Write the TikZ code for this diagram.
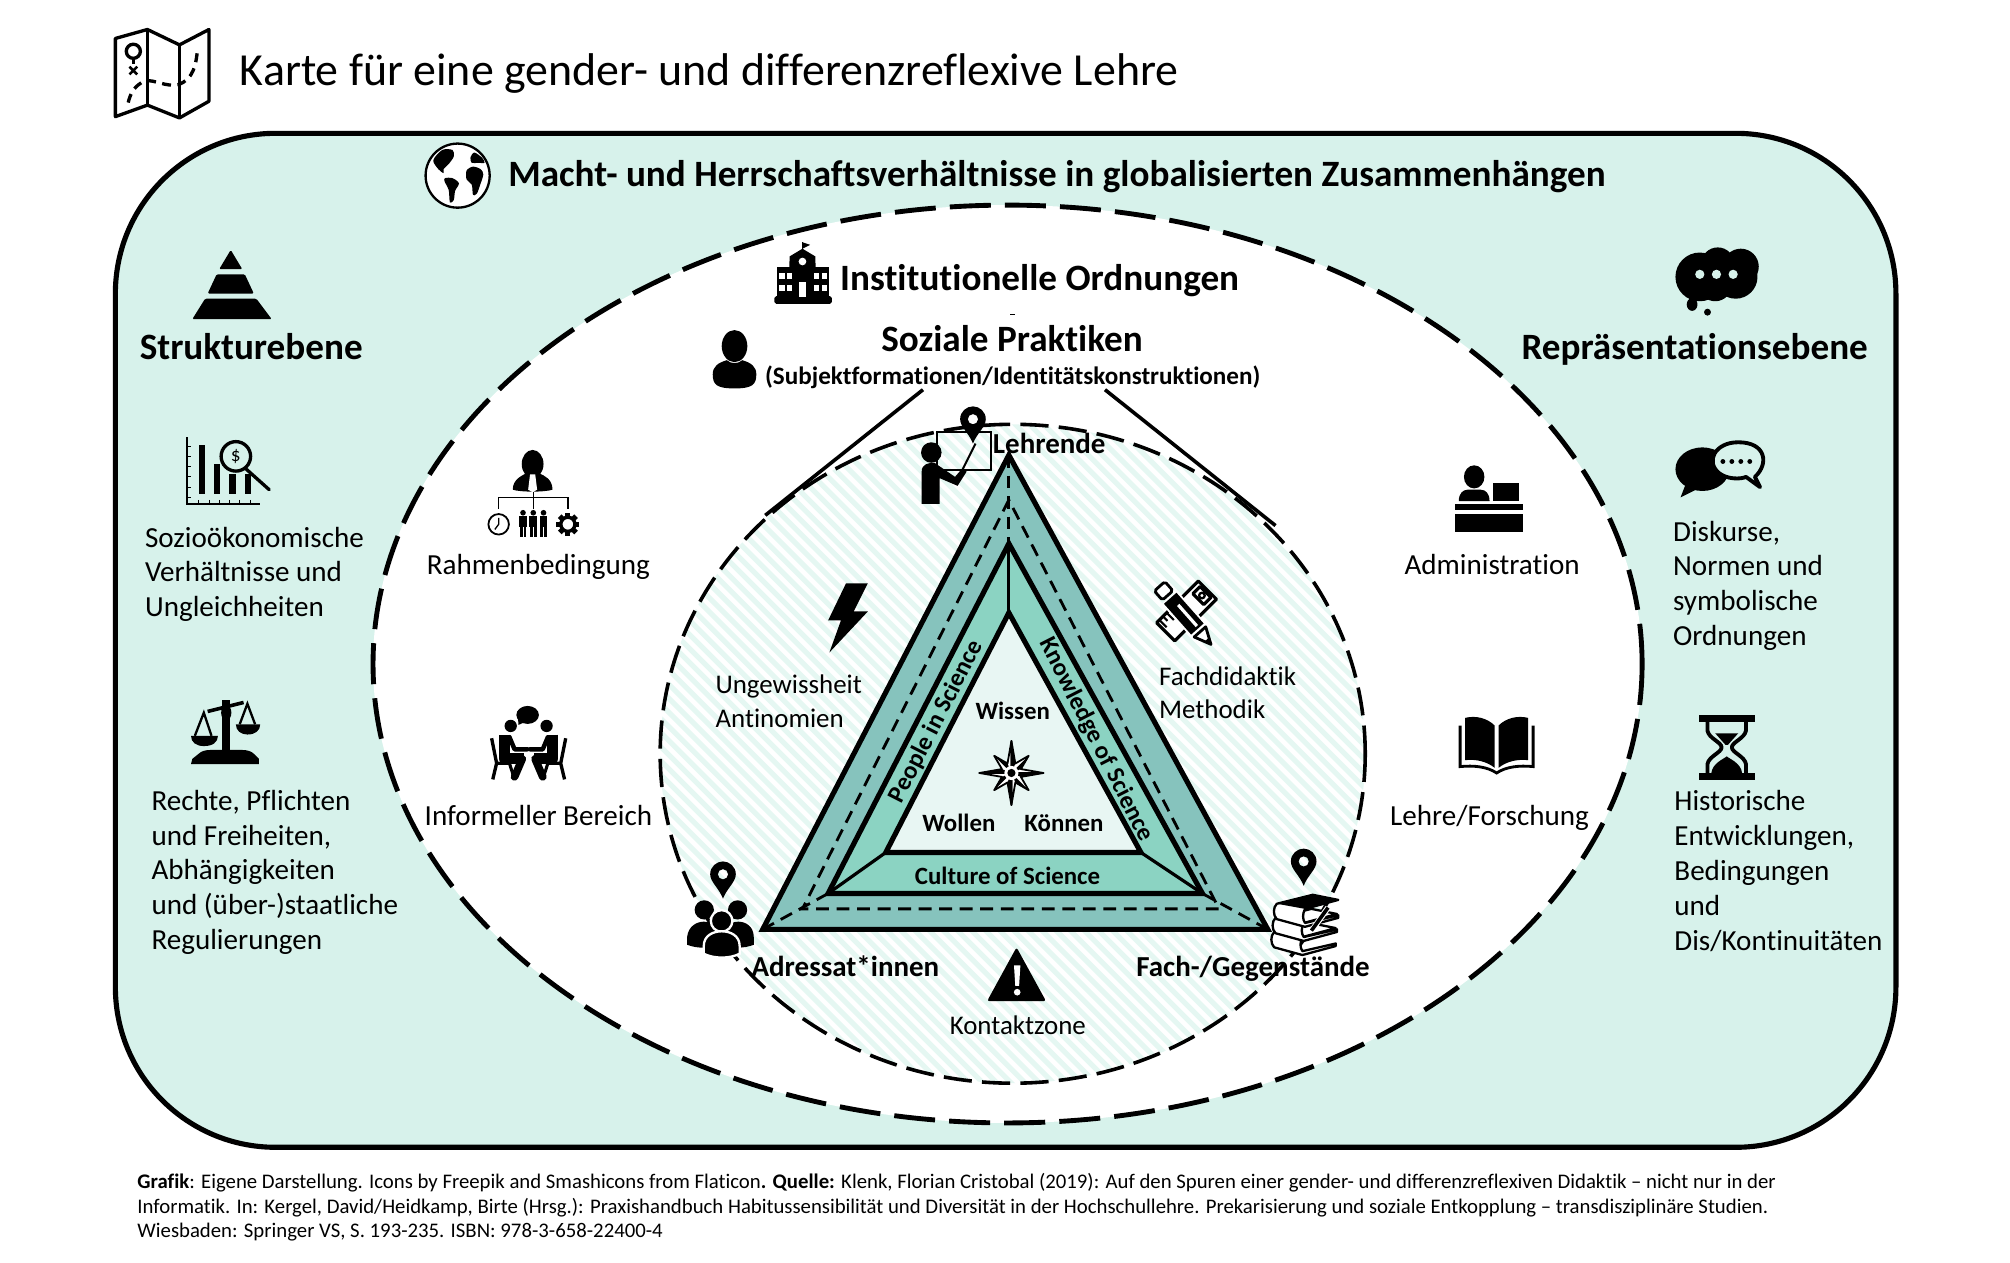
\documentclass[tikz,border=0pt]{standalone}
\usepackage{fontspec}
\setmainfont{Carlito}[Ligatures=NoCommon]
\definecolor{mint}{HTML}{D7F2EB}
\definecolor{hatchc}{HTML}{E5F7F2}
\definecolor{bandA}{HTML}{86C3BD}
\definecolor{bandB}{HTML}{8BD3C2}
\definecolor{coreC}{HTML}{E8F6F3}
\tikzset{
 txttitle/.style={font=\fontsize{35.8}{42}\selectfont,inner sep=0,anchor=base west},
 txthead/.style={font=\bfseries\fontsize{29}{34}\selectfont,inner sep=0,anchor=base},
 txtsub/.style={font=\bfseries\fontsize{19.6}{23}\selectfont,inner sep=0,anchor=base},
 txtbody/.style={font=\fontsize{22.7}{27.2}\selectfont,inner sep=0,align=left,anchor=west},
 txtlab/.style={font=\fontsize{22.7}{27}\selectfont,inner sep=0,anchor=base},
 txtbold/.style={font=\bfseries\fontsize{22.6}{27}\selectfont,inner sep=0,anchor=base},
 txtin/.style={font=\bfseries\fontsize{19.4}{23}\selectfont,inner sep=0,anchor=base},
 txtfoot/.style={font=\fontsize{16.2}{19.2}\selectfont,inner sep=0,align=left,anchor=west},
 dashout/.style={line width=3.8pt,dash pattern=on 32pt off 11pt},
 dashin/.style={line width=2.8pt,dash pattern=on 22pt off 8pt},
 dashtri/.style={line width=2.2pt,dash pattern=on 10pt off 6pt},
 tri/.style={line width=4pt,line join=miter},
 locpin/.pic={
  \fill[black,even odd rule] (0,0) .. controls (-3,-8) and (-10,-13) .. (-10,-19)
    .. controls (-10,-25) and (-5,-29) .. (0,-29) .. controls (5,-29) and (10,-25) .. (10,-19)
    .. controls (10,-13) and (3,-8) .. (0,0) -- cycle (0,-19) circle[radius=4];
 },
 minifig/.pic={
  \fill (0,-9) circle[radius=2.2];
  \fill (-3,-6.5) rectangle (3,2);
  \fill (-2.6,2) rectangle (-.4,10);
  \fill (.4,2) rectangle (2.6,10);
 },
 sitter/.pic={
  \draw[line width=2.6pt] (-28.9,29.9) -- (-25,49.4) -- (-28,62);
  \draw[line width=2.4pt] (-25,49.4) -- (-15,49.4) -- (-11,62);
  \fill (-14,20.3) circle[radius=4.8];
  \draw[line width=8.5pt,line join=round] (-18.5,27) -- (-18.5,46) -- (-4,46);
  \draw[line width=6pt,line cap=round,line join=round] (-5,46) -- (-11,60);
  \draw[white,line width=5.5pt] (-12,31) -- (-10,38);
  \draw[line width=3.5pt,line cap=round,line join=round] (-15,29) -- (-11,38.5) -- (-1,38.5);
 },
 onebook/.pic={
  \draw[fill=white,line width=1.8pt,line join=round] (0,0) .. controls (-3,3) and (-3,9) .. (0,12)
    -- (22,18) -- (48,11) -- (48,9) -- (22,15) .. controls (20,12) and (20,8) .. (22,4) -- (48,-3) -- (28,-7) -- cycle;
 }
}
\begin{document}
\begin{tikzpicture}[x=1pt,y=-1pt,line cap=butt]
\useasboundingbox (0,0) rectangle (1568,985.2);
\fill[white] (0,0) rectangle (1568,985.2);

% main frames
\draw[line width=4pt,fill=mint,rounded corners=125pt] (90,104) rectangle (1479,895);
\fill[white] (786,518) ellipse[x radius=495,y radius=358];
\draw[dashout] (786,518) ellipse[x radius=495,y radius=358];

% contact zone
\begin{scope}
 \clip (790,588) ellipse[x radius=275,y radius=257];
 \foreach \k in {-66,-55,...,1100}{
   \draw[hatchc,line width=4pt] (\k,320) -- ++(540,540);
 }
\end{scope}
\draw[dashin] (790,588) ellipse[x radius=275,y radius=257];
\coordinate (wedgeLa) at (720,304); \coordinate (wedgeLb) at (597,402);
\coordinate (wedgeRa) at (862,304); \coordinate (wedgeRb) at (995,410);
\draw[line width=2.8pt] (wedgeLa) -- (wedgeLb);
\draw[line width=2.8pt] (wedgeRa) -- (wedgeRb);

% triangles
\coordinate (oA) at (787,355); \coordinate (oL) at (595,725); \coordinate (oR) at (989,725);
\coordinate (dA) at (787,390); \coordinate (dL) at (626,709); \coordinate (dR) at (951,709);
\coordinate (mA) at (787,424); \coordinate (mL) at (646,697); \coordinate (mR) at (938,697);
\coordinate (iA) at (787,478); \coordinate (iL) at (691,665); \coordinate (iR) at (890,665);
\draw[tri,fill=bandA] (oA) -- (oL) -- (oR) -- cycle;
\draw[dashtri] (dA) -- (dL) -- (dR) -- cycle;
\draw[dashtri] (oA) -- (mA);
\draw[dashtri] (oL) -- (mL);
\draw[dashtri] (oR) -- (mR);
\draw[tri,fill=bandB] (mA) -- (mL) -- (mR) -- cycle;
\draw[tri,fill=coreC] (iA) -- (iL) -- (iR) -- cycle;
\draw[line width=2.5pt] (mA) -- (iA);
\draw[line width=2.5pt] (mL) -- (iL);
\draw[line width=2.5pt] (mR) -- (iR);

% map icon
\begin{scope}[line width=2.6pt,line join=round]
 \draw (90,30) -- (115,23) -- (140,35) -- (163,23) -- (163,79) -- (140,92) -- (115,82) -- (90,91) -- cycle;
 \draw (115,23) -- (115,82) (140,35) -- (140,92);
 \draw (104,40) circle[radius=5.5];
 \draw (104,46) -- (104,50);
 \draw[line width=2pt] (101,52) -- (107,58) (107,52) -- (101,58);
 \draw[dash pattern=on 7pt off 5pt] (100,80) .. controls (102,72) and (105,67) .. (113,63) .. controls (121,62) and (129,68) .. (139,66) .. controls (151,62) and (153,50) .. (154,39);
\end{scope}

% globe
\begin{scope}[shift={(357,137)}]
 \draw[line width=1.8pt,fill=white] (0,0) circle[radius=25];
 \fill plot[smooth cycle] coordinates {(-19,-12) (-12,-20) (-4,-20) (-3,-15) (-7,-9) (-11,-5) (-11,-2) (-15,-5)};
 \fill plot[smooth cycle] coordinates {(-10,2) (-4,2) (1,6) (-2,12) (-3,19) (-6,21) (-7,11) (-10,5)};
 \fill plot[smooth cycle] coordinates {(7,-4) (12,-7) (18,-5) (20,-1) (18,6) (15,14) (12,15) (11,7) (7,3)};
 \fill plot[smooth cycle] coordinates {(10,-14) (13,-18) (19,-14) (21,-10) (16,-10) (11,-10)};
\end{scope}

% pyramid
\fill[rounded corners=1pt] (180,195) -- (189,210) -- (171,210) -- cycle;
\fill[rounded corners=1pt] (169,214) -- (191,214) -- (198,229) -- (162,229) -- cycle;
\fill[rounded corners=1pt] (160,233) -- (200,233) -- (212,249) -- (150,249) -- cycle;

% school
\begin{scope}
 \fill[rounded corners=1.5pt] (604,231) rectangle (649,237);
 \fill (606,208) rectangle (647,232);
 \fill (616,200) -- (626,194) -- (636,200) -- (637,232) -- (615,232) -- cycle;
 \draw[line width=1.2pt] (626,194) -- (626,189);
 \fill (626,189) -- (632,191) -- (626,194) -- cycle;
 \fill[white] (626,204) circle[radius=3];
 \fill[white] (623,220) rectangle (629,232);
 \foreach \wx in {608,614,635,641}{
   \fill[white] (\wx,213) rectangle ++(4,5);
   \fill[white] (\wx,222) rectangle ++(4,5);
 }
\end{scope}

% social practice person
\fill (573,270) ellipse[x radius=10,y radius=12.5];
\fill (556,292) .. controls (556,286) and (560,283) .. (567,281) .. controls (570,284) and (576,284) .. (579,281)
  .. controls (586,283) and (590,286) .. (590,292) .. controls (590,300) and (587,303) .. (573,303) .. controls (559,303) and (556,300) .. (556,292) -- cycle;

% teacher
\draw[line width=1.5pt] (731,337) rectangle (773,367);
\fill (726.5,353) ellipse[x radius=8,y radius=8];
\fill (719,393) -- (719,368) .. controls (719,362) and (724,361) .. (729,361) -- (745,372) -- (751,365) -- (754,368) -- (747,379) -- (733,373) -- (733,393) -- cycle;
\draw[line width=1.5pt] (751,366) -- (761,346);
\pic at (759,346) {locpin};

% chart with magnifier
\begin{scope}
 \draw[line width=1.5pt] (146,341) -- (146,393) -- (203,393);
 \fill (155,347) rectangle (160,385);
 \fill (167,362) rectangle (172,385);
 \fill (179,370) rectangle (184,385);
 \fill (191,370) rectangle (196,385);
 \draw[line width=2.6pt,line cap=round] (191,365) -- (210,382);
 \draw[line width=2.6pt,fill=mint] (184,356) circle[radius=11.5];
 \node[inner sep=0,font=\fontsize{15}{15}\selectfont] (dollar) at (184,356) {\$};
 \foreach \ty in {348,356,364,372,380,388}{\draw[line width=.6pt] (146,\ty) -- (149,\ty);}
 \foreach \tx in {155,163,171,179,187,195}{\draw[line width=.6pt] (\tx,390) -- (\tx,393);}
\end{scope}

% scales
\begin{scope}
 \fill (173.5,546) rectangle (179.5,592);
 \fill (176.5,556) ellipse[x radius=4,y radius=6];
 \fill (150,592) -- (155,588) .. controls (157,586) and (160,585) .. (165,585) -- (188,585) .. controls (193,585) and (196,586) .. (198,588) -- (202,592) -- (202,596) -- (149,596) -- cycle;
 \draw[line width=2.8pt] (162,555) -- (190,548);
 \draw[line width=1.8pt] (152,574) -- (159,556) -- (165,574);
 \draw[line width=1.8pt] (187,565) -- (193,549) -- (199,565);
 \fill (149,574) -- (170,574) .. controls (170,579) and (166,582) .. (159,582) .. controls (153,582) and (149,579) .. (149,574) -- cycle;
 \fill (184,565) -- (203,565) .. controls (203,570) and (199,573) .. (193,573) .. controls (188,573) and (184,570) .. (184,565) -- cycle;
\end{scope}

% org chart
\begin{scope}
 \fill (415.5,362) ellipse[x radius=8.5,y radius=11];
 \fill (400,382) .. controls (400,374) and (407,371) .. (411,369) -- (420,369) .. controls (425,371) and (431,374) .. (431,382) .. controls (425,384) and (406,384) .. (400,382) -- cycle;
 \fill[white] (413.5,370) -- (417.5,370) -- (419,382) -- (415.5,384) -- (412,382) -- cycle;
 \draw[line width=1pt] (389,397) -- (389,388) -- (443,388) -- (443,397) (416,384) -- (416,397);
 \draw[line width=1.4pt] (389,409) circle[radius=8];
 \draw[line width=1pt] (389,404) -- (389,409) -- (386,413);
 \pic at (408,409) {minifig};
 \pic at (416,409) {minifig};
 \pic at (424,409) {minifig};
 \foreach \a in {0,45,...,315}{\fill[shift={(443,409)},rotate=\a] (-2,-9) rectangle (2,-5);}
 \draw[line width=2.6pt] (443,409) circle[radius=5.5];
\end{scope}

% informal talk
\fill (411.6,557.7) ellipse[x radius=8.8,y radius=7];
\fill (404,559) -- (410,563) -- (404.5,565.5) -- cycle;
\pic at (412.4,546) {sitter};
\pic[xscale=-1] at (412.4,546) {sitter};

% lightning
\fill (660,455) -- (677,455) -- (666,477) -- (677,477) -- (647,509) -- (656,484) -- (646,484) -- cycle;

% pencil and ruler
\begin{scope}[shift={(925.6,476.6)},rotate=45,line width=2.4pt,line join=round]
 \draw[fill=white] (-23,-10) rectangle (23,10);
 \draw[fill=white] (13,-6) rectangle (21,6);
 \draw[line width=1.8pt] (17,0) circle[radius=2.2];
 \draw[line width=1.6pt] (-20,-10) -- (-20,-2) (-16,-10) -- (-16,-5) (-12,-10) -- (-12,-2);
\end{scope}
\begin{scope}[shift={(924.8,480.2)},rotate=-48.5,line width=2.2pt,line join=round]
 \draw[fill=white,rounded corners=1.5pt] (-30.5,-5.5) rectangle (-21,5.5);
 \fill[white] (-19,-8) rectangle (16,8);
 \fill (-18,-6.5) rectangle (14,6.5);
 \fill[white] (-10,-2.5) rectangle (12,0);
 \draw[fill=white] (17,-6) -- (30,0) -- (17,6) -- cycle;
 \fill (25,-2.3) -- (31,0) -- (25,2.3) -- cycle;
\end{scope}

% addressees
\pic at (564,701) {locpin};
\fill (549.4,709.8) circle[radius=7.5];
\fill (575.4,709.8) circle[radius=7.5];
\fill (536,737) -- (536,731) .. controls (537,722) and (544,719) .. (549,719) .. controls (554,719) and (562,722) .. (562,731) -- (562,737) .. controls (552,740) and (544,740) .. (536,737) -- cycle;
\fill (562,737) -- (562,731) .. controls (563,722) and (571,719) .. (576,719) .. controls (581,719) and (588,722) .. (588,731) -- (588,737) .. controls (580,740) and (572,740) .. (562,737) -- cycle;
\draw[white,line width=1.8pt,fill=black] (562.9,718.4) circle[radius=8.4];
\draw[white,line width=1.8pt,fill=black] (549,744) -- (549,738) .. controls (549,730) and (556,726.5) .. (563,726.5) .. controls (570,726.5) and (577,730) .. (577,738) -- (577,744) .. controls (569,748) and (557,748) .. (549,744) -- cycle;

% books
\pic at (1017,691) {locpin};
\pic at (994,727) {onebook};
\pic at (995,716) {onebook};
\pic at (996,705) {onebook};
\fill (996,705) -- (1024,698) -- (1044,702) -- (1018,709) -- cycle;
\draw[white,line width=4.5pt] (1036,708) -- (1024,725);
\draw[line width=2.8pt] (1036,708) -- (1023,726);

% warning
\fill[rounded corners=2pt] (793,739) -- (816,781) -- (770,781) -- cycle;
\fill[white] (791,753) -- (796,753) -- (795,769) -- (792,769) -- cycle;
\fill[white] (793.5,774) circle[radius=2.6];

% compass
\begin{scope}[shift={(789,603)}]
 \foreach \a in {0,90,180,270}{
   \draw[line width=1.4pt,fill=white,line join=round] (\a:25) -- (\a+22.5:8) -- (\a+45:19) -- (\a+67.5:8) -- (\a+90:25) -- (0,0) -- cycle;
 }
 \foreach \a in {0,45,...,315}{
   \pgfmathsetmacro{\rr}{mod(\a,90)==0 ? 25 : 19}
   \fill (0,0) -- (\a:\rr) -- (\a+22.5:8) -- cycle;
 }
 \fill[white] (0,0) circle[radius=5.5];
 \fill (0,0) circle[radius=3.2];
\end{scope}

% administration
\fill (1150,372) ellipse[x radius=8,y radius=9];
\fill (1138,391) .. controls (1138,385) and (1141,382) .. (1145,382) -- (1155,382) .. controls (1159,382) and (1162,385) .. (1162,391) -- cycle;
\fill (1165,377) rectangle (1185,391);
\fill (1135,393.5) rectangle (1188,398);
\fill (1135,401) rectangle (1188,415);

% open book
\begin{scope}
 \fill (1143,560) .. controls (1151,558) and (1160,560) .. (1166,566) -- (1166,599) .. controls (1160,594) and (1151,592) .. (1143,593) -- cycle;
 \fill (1192,560) .. controls (1184,558) and (1175,560) .. (1169,566) -- (1169,599) .. controls (1175,594) and (1184,592) .. (1192,593) -- cycle;
 \draw[line width=2.2pt] (1139,566) -- (1139,598) .. controls (1150,597) and (1160,598) .. (1167.5,603) .. controls (1175,598) and (1185,597) .. (1196,598) -- (1196,566);
\end{scope}

% cloud
\fill (1326,216) circle[radius=19];
\fill (1340,206) circle[radius=13];
\fill (1358,208) circle[radius=14];
\fill (1354,216) circle[radius=17];
\fill (1338,222) circle[radius=13];
\foreach \dx in {1326,1339,1352}{\fill[mint] (\dx,214) circle[radius=3.6];}
\fill (1320,237.5) ellipse[x radius=4.2,y radius=5];
\fill (1332,243.5) circle[radius=2.7];

% speech bubbles
\fill (1328,366) ellipse[x radius=21,y radius=17];
\fill (1316,375) -- (1325,381) -- (1311,388) -- cycle;
\draw[line width=3pt,fill=mint,line join=round] (1369,372) .. controls (1380,362) and (1378,345) .. (1356,345) .. controls (1338,345) and (1330,360) .. (1341,369) .. controls (1347,374) and (1358,374) .. (1362,372) -- (1373,380) -- cycle;
\foreach \dx in {1344,1351,1358,1365}{\fill (\dx,360) circle[radius=1.9];}

% hourglass
\begin{scope}
 \fill (1325,558) rectangle (1369,563.5);
 \fill (1325,603) rectangle (1369,608.5);
 \draw[line width=3pt,line join=round] (1332,563) -- (1332,570) .. controls (1333,576) and (1343,579) .. (1343,583) .. controls (1343,587) and (1333,590) .. (1332,596) -- (1332,604);
 \draw[line width=3pt,line join=round] (1362,563) -- (1362,570) .. controls (1361,576) and (1351,579) .. (1351,583) .. controls (1351,587) and (1361,590) .. (1362,596) -- (1362,604);
 \fill (1338,572) -- (1356,572) -- (1348,581) -- (1346,581) -- cycle;
 \fill (1335,603) .. controls (1336,595) and (1345,592) .. (1347,590) .. controls (1349,592) and (1358,595) .. (1359,603) -- cycle;
\end{scope}

% tiny mark
\draw[line width=.8pt] (788,245) -- (792,245);

% texts
\node[txttitle] (ttl) at (187,67) {Karte für eine gender- und differenzreflexive Lehre};
\node[txthead] (macht) at (824.5,145.5) {Macht- und Herrschaftsverhältnisse in globalisierten Zusammenhängen};
\node[txthead] (inst) at (811,227) {Institutionelle Ordnungen};
\node[txthead] (soz) at (789.5,274.5) {Soziale Praktiken};
\node[txtsub] (subj) at (790,300) {(Subjektformationen/Identitätskonstruktionen)};
\node[txthead] (struk) at (196,280.5) {Strukturebene};
\node[txthead] (repr) at (1322,280.5) {Repräsentationsebene};
\node[txtbody] (sozio) at (113,448) {Sozioökonomische\\Verhältnisse und\\Ungleichheiten};
\node[txtbody] (recht) at (118,680.5) {Rechte, Pflichten\\und Freiheiten,\\Abhängigkeiten\\und (über-)staatliche\\Regulierungen};
\node[txtbody] (disk) at (1305,457) {Diskurse,\\Normen und\\symbolische\\Ordnungen};
\node[txtbody] (hist) at (1306,679.5) {Historische\\Entwicklungen,\\Bedingungen\\und\\Dis/Kontinuitäten};
\node[txtlab] (rahm) at (420,448) {Rahmenbedingung};
\node[txtlab] (info) at (420,644) {Informeller Bereich};
\node[txtlab] (admi) at (1164,448) {Administration};
\node[txtlab] (lehr) at (1162,644) {Lehre/Forschung};
\node[txtbody,font=\fontsize{21}{26}\selectfont] (ungw) at (558,547) {Ungewissheit\\Antinomien};
\node[txtbody,font=\fontsize{21}{26}\selectfont] (fach) at (904,540.5) {Fachdidaktik\\Methodik};
\node[txtlab,font=\fontsize{21}{26}\selectfont] (kont) at (794,807) {Kontaktzone};
\node[txtbold] (lehrende) at (818.5,354) {Lehrende};
\node[txtbold] (adr) at (659.5,762) {Adressat*innen};
\node[txtbold] (geg) at (977.5,762) {Fach-/Gegenstände};
\node[txtin] (wis) at (790,561) {Wissen};
\node[txtin] (wol) at (748,649) {Wollen};
\node[txtin] (kon) at (830,649) {Können};
\node[txtin] (cul) at (786,690) {Culture of Science};
\node[txtin,anchor=center,rotate=63] (peo) at (730.5,563) {People in Science};
\node[txtin,anchor=center,rotate=-63] (kno) at (855,577) {Knowledge of Science};
\node[txtfoot] (foot) at (107,942) {\textbf{Grafik}: Eigene Darstellung. Icons by Freepik and Smashicons from Flaticon\textbf{. Quelle:} Klenk, Florian Cristobal (2019): Auf den Spuren einer gender- und differenzreflexiven Didaktik – nicht nur in der\\Informatik. In: Kergel, David/Heidkamp, Birte (Hrsg.): Praxishandbuch Habitussensibilität und Diversität in der Hochschullehre. Prekarisierung und soziale Entkopplung – transdisziplinäre Studien.\\Wiesbaden: Springer VS, S. 193-235. ISBN: 978-3-658-22400-4};
\end{tikzpicture}
\end{document}
